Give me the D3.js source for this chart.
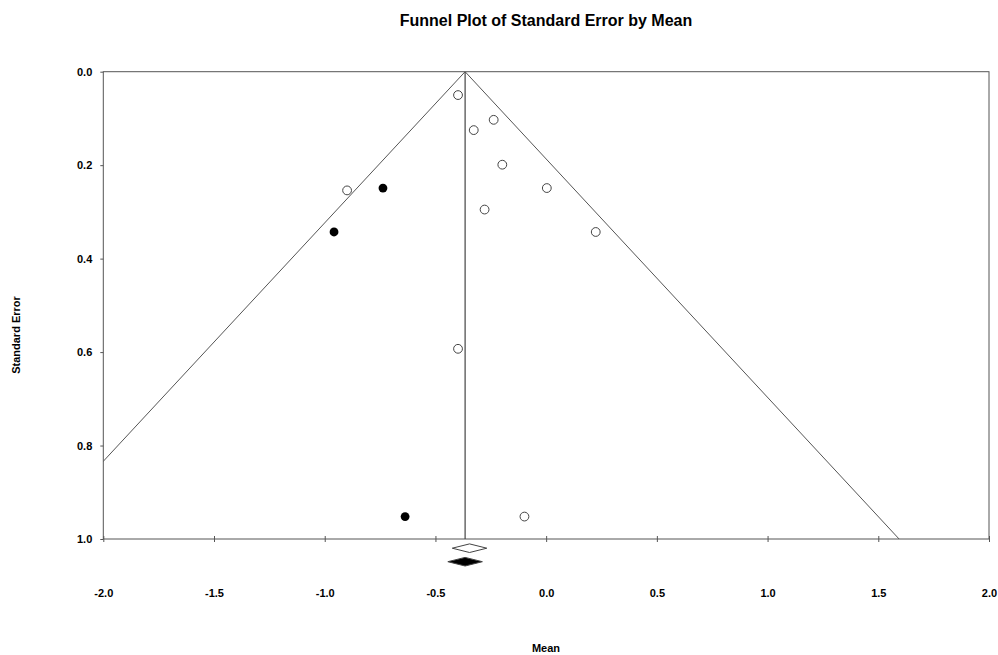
<!DOCTYPE html>
<html>
<head>
<meta charset="utf-8">
<script src="https://cdn.jsdelivr.net/npm/d3@7.9.0/dist/d3.min.js"></script>
<style>
  body { margin: 0; background: #fff; }
  svg { display: block; font-family: "Liberation Sans", Arial, sans-serif; }
  .tick text { font-weight: bold; font-size: 11px; fill: #000; }
</style>
</head>
<body>
<svg id="chart" width="998" height="655"></svg>
<script>
// study points: mean, standard error, observed (open) vs imputed (filled)
const obsMean = [-0.398, -0.237, -0.327, -0.198, 0.003, -0.278, 0.224, -0.899, -0.398, -0.098];
const obsSE   = [0.050, 0.103, 0.125, 0.199, 0.249, 0.295, 0.343, 0.254, 0.593, 0.952];
const impMean = [-0.737, -0.958, -0.637];
const impSE   = [0.249, 0.343, 0.952];

// combined estimates (diamonds)
const observedEst = { mean: -0.346, lo: -0.424, hi: -0.268 };
const adjustedEst = { mean: -0.366, lo: -0.444, hi: -0.288 };

const xTicks = [-2.0, -1.5, -1.0, -0.5, 0.0, 0.5, 1.0, 1.5, 2.0];
const yTicks = [0.0, 0.2, 0.4, 0.6, 0.8, 1.0];

const svg = d3.select("#chart");
const mLeft = 103.3, mRight = 989, mTop = 71.7, mBottom = 539;

const x = d3.scaleLinear().domain([-2, 2]).range([mLeft, mRight]);
const y = d3.scaleLinear().domain([0, 1]).range([mTop, mBottom]);
const fmt = d => d.toFixed(1); // plain hyphen minus like the original

// title
svg.append("text")
  .attr("x", 546).attr("y", 26)
  .attr("text-anchor", "middle")
  .attr("font-size", 16).attr("font-weight", "bold")
  .text("Funnel Plot of Standard Error by Mean");

// frame
svg.append("rect")
  .attr("x", mLeft).attr("y", mTop)
  .attr("width", mRight - mLeft).attr("height", mBottom - mTop)
  .attr("fill", "none").attr("stroke", "#555").attr("stroke-width", 1);

// clipped funnel
svg.append("clipPath").attr("id", "clip")
  .append("rect").attr("x", mLeft).attr("y", mTop)
  .attr("width", mRight - mLeft).attr("height", mBottom - mTop);

const m = adjustedEst.mean;
const g = svg.append("g").attr("clip-path", "url(#clip)");
const line = d3.line().x(d => x(d[0])).y(d => y(d[1]));
g.append("path")
  .attr("d", line([[m - 1.96 * 1.2, 1.2], [m, 0], [m + 1.96 * 1.2, 1.2]]))
  .attr("fill", "none").attr("stroke", "#555").attr("stroke-width", 1);
g.append("line")
  .attr("x1", x(m)).attr("x2", x(m))
  .attr("y1", y(0)).attr("y2", y(1))
  .attr("stroke", "#444").attr("stroke-width", 1.2);

// axes
const xAxis = svg.append("g")
  .attr("transform", `translate(0,${mBottom})`)
  .call(d3.axisBottom(x).tickValues(xTicks).tickFormat(fmt).tickSize(3).tickPadding(47));
xAxis.select(".domain").remove();
xAxis.selectAll(".tick line").attr("y1", -3).attr("stroke", "#555");

const yAxis = svg.append("g")
  .attr("transform", `translate(${mLeft},0)`)
  .call(d3.axisLeft(y).tickValues(yTicks).tickFormat(fmt).tickSize(3).tickPadding(8));
yAxis.select(".domain").remove();
yAxis.selectAll(".tick line").attr("x1", 0).attr("x2", -3).attr("stroke", "#555");

// axis titles
svg.append("text")
  .attr("x", 546).attr("y", 652)
  .attr("text-anchor", "middle")
  .attr("font-size", 11).attr("font-weight", "bold")
  .text("Mean");
svg.append("text")
  .attr("transform", "translate(20,335) rotate(-90)")
  .attr("text-anchor", "middle")
  .attr("font-size", 11).attr("font-weight", "bold")
  .text("Standard Error");

// points
svg.append("g").selectAll("circle")
  .data(obsMean.map((d, i) => [d, obsSE[i]]))
  .join("circle")
  .attr("cx", d => x(d[0])).attr("cy", d => y(d[1]))
  .attr("r", 4.4)
  .attr("fill", "#fff").attr("stroke", "#444").attr("stroke-width", 1);

svg.append("g").selectAll("circle")
  .data(impMean.map((d, i) => [d, impSE[i]]))
  .join("circle")
  .attr("cx", d => x(d[0])).attr("cy", d => y(d[1]))
  .attr("r", 4.4)
  .attr("fill", "#000");

// diamonds
function diamond(est, cy, fill) {
  const h = 4.3;
  svg.append("path")
    .attr("d", `M${x(est.lo)},${cy}L${x(est.mean)},${cy - h}L${x(est.hi)},${cy}L${x(est.mean)},${cy + h}Z`)
    .attr("fill", fill).attr("stroke", "#444").attr("stroke-width", 1);
}
diamond(observedEst, 548.2, "#fff");
diamond(adjustedEst, 561.7, "#000");
</script>
</body>
</html>
